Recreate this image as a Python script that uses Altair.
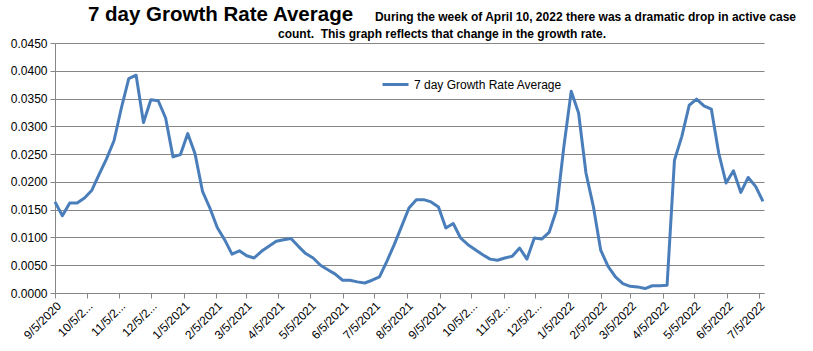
import altair as alt
import pandas as pd

# ---- data ----
series_name = "7 day Growth Rate Average"
first_date = "2020-09-05"
step_days = 7
growth_rate = [
    0.0164, 0.0139, 0.0162, 0.0162, 0.0171, 0.0185, 0.0214, 0.0242, 0.0274, 0.0333,
    0.0386, 0.0392, 0.0307, 0.0348, 0.0346, 0.0315, 0.0245, 0.0249, 0.0287, 0.0250,
    0.0183, 0.0153, 0.0118, 0.0096, 0.0070, 0.0076, 0.0067, 0.0063, 0.0075, 0.0084,
    0.0093, 0.0096, 0.0098, 0.0084, 0.0071, 0.0063, 0.0050, 0.0042, 0.0034, 0.0023,
    0.0023, 0.0020, 0.0018, 0.0023, 0.0029, 0.0057, 0.0087, 0.0120, 0.0153, 0.0168,
    0.0168, 0.0164, 0.0155, 0.0117, 0.0125, 0.0099, 0.0087, 0.0078, 0.0069, 0.0061,
    0.0059, 0.0063, 0.0066, 0.0081, 0.0061, 0.0099, 0.0097, 0.0109, 0.0149, 0.0263,
    0.0363, 0.0324, 0.0216, 0.0156, 0.0077, 0.0048, 0.0029, 0.0017, 0.0012, 0.0011,
    0.0008, 0.0013, 0.0013, 0.0014, 0.0239, 0.0282, 0.0338, 0.0349, 0.0337, 0.0331,
    0.0252, 0.0198, 0.0220, 0.0181, 0.0208, 0.0192, 0.0165,
]
x_tick_dates = [
    (2020, 9, 5), (2020, 10, 5), (2020, 11, 5), (2020, 12, 5),
    (2021, 1, 5), (2021, 2, 5), (2021, 3, 5), (2021, 4, 5), (2021, 5, 5), (2021, 6, 5),
    (2021, 7, 5), (2021, 8, 5), (2021, 9, 5), (2021, 10, 5), (2021, 11, 5), (2021, 12, 5),
    (2022, 1, 5), (2022, 2, 5), (2022, 3, 5), (2022, 4, 5), (2022, 5, 5), (2022, 6, 5),
    (2022, 7, 5),
]
x_tick_labels = [
    "9/5/2020", "10/5/2...", "11/5/2...", "12/5/2...",
    "1/5/2021", "2/5/2021", "3/5/2021", "4/5/2021", "5/5/2021", "6/5/2021",
    "7/5/2021", "8/5/2021", "9/5/2021", "10/5/2...", "11/5/2...", "12/5/2...",
    "1/5/2022", "2/5/2022", "3/5/2022", "4/5/2022", "5/5/2022", "6/5/2022",
    "7/5/2022",
]
x_domain = [(2020, 9, 5), (2022, 7, 10)]
y_ticks = [0.0, 0.005, 0.010, 0.015, 0.020, 0.025, 0.030, 0.035, 0.040, 0.045]

title_text = "7 day Growth Rate Average"
subtitle_line1 = "During the week of April 10, 2022 there was a dramatic drop in active case"
subtitle_line2 = "count.\u00a0 This graph reflects that change in the growth rate."

# ---- build table ----
start = pd.Timestamp(first_date)
dates = [(start + pd.Timedelta(days=step_days * i)).strftime("%Y-%m-%dT00:00:00")
         for i in range(len(growth_rate))]
df = pd.DataFrame({"date": dates, "rate": growth_rate, "series": series_name})

def dt(t):
    return alt.DateTime(year=t[0], month=t[1], date=t[2])

labels_js = "[" + ",".join("'" + s + "'" for s in x_tick_labels) + "]"
label_expr = labels_js + "[(year(datum.value)-2020)*12 + month(datum.value) - 8]"

FONT = "Liberation Sans"
GRAY = "#868686"
BLUE = "#4a7ebb"

line = alt.Chart(df).mark_line(strokeWidth=3, strokeJoin="round", color=BLUE).encode(
    x=alt.X("date:T",
            scale=alt.Scale(domain=[dt(x_domain[0]), dt(x_domain[1])]),
            axis=alt.Axis(values=[dt(t) for t in x_tick_dates], labelExpr=label_expr,
                          labelAngle=-45, grid=False, title=None, tickSize=5,
                          labelPadding=2, labelFontSize=12, labelFont=FONT,
                          labelColor="black", domainColor=GRAY, tickColor=GRAY,
                          labelOverlap=False, labelBound=False)),
    y=alt.Y("rate:Q",
            scale=alt.Scale(domain=[0, 0.045], nice=False),
            axis=alt.Axis(values=y_ticks, format=".4f", title=None, grid=True,
                          gridColor=GRAY, domainColor=GRAY, tickColor=GRAY,
                          tickSize=5, labelPadding=3, labelFontSize=12,
                          labelFont=FONT, labelColor="black")),
    color=alt.Color("series:N", scale=alt.Scale(range=[BLUE]),
                    legend=alt.Legend(title=None, orient="none", legendX=326, legendY=27,
                                      symbolType="stroke", symbolStrokeWidth=3,
                                      symbolSize=676, labelFontSize=12, labelFont=FONT,
                                      labelColor="black", labelOffset=4, padding=0)),
)

one = pd.DataFrame({"t": [0]})

title_mark = alt.Chart(one).mark_text(
    text=title_text, font=FONT, fontSize=20.5, fontWeight="bold", align="left",
    baseline="alphabetic", color="black"
).encode(x=alt.value(33), y=alt.value(-22))

sub1 = alt.Chart(one).mark_text(
    text=subtitle_line1, font=FONT, fontSize=12, fontWeight="bold", align="right",
    baseline="alphabetic", color="black"
).encode(x=alt.value(741), y=alt.value(-22))

sub2 = alt.Chart(one).mark_text(
    text=subtitle_line2, font=FONT, fontSize=12, fontWeight="bold", align="center",
    baseline="alphabetic", color="black"
).encode(x=alt.value(387), y=alt.value(-5))

chart = alt.layer(line, title_mark, sub1, sub2).properties(
    width=709, height=250,
    padding={"left": 55, "top": 43, "right": 49, "bottom": 58},
    autosize=alt.AutoSizeParams(type="none"),
).configure_view(stroke=None)

chart.save("out.html", embed_options={"renderer": "svg", "actions": False})
